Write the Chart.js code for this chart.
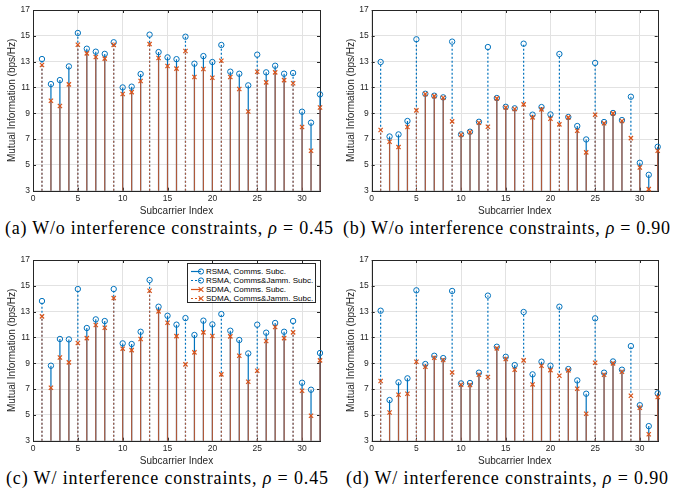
<!DOCTYPE html>
<html>
<head>
<meta charset="utf-8">
<script src="https://cdn.jsdelivr.net/npm/chart.js@4.4.0/dist/chart.umd.min.js"></script>
<style>
body{margin:0;background:#fff;width:673px;height:492px;position:relative;overflow:hidden;font-family:"Liberation Sans",Arial,sans-serif}
.panel{position:absolute}
.panel canvas{display:block}
.cap{position:absolute;font-family:"Liberation Serif","Times New Roman",serif;font-size:18px;white-space:nowrap;color:#000;line-height:18px}
.legend{position:absolute;left:187px;top:263px;width:127px;height:38px;border:1px solid #262626;background:#fff;font-size:8px;color:#000}
.legend div{position:absolute;left:2px;height:9px;line-height:9px;white-space:nowrap}
.legend svg{vertical-align:top;margin-right:2px}
</style>
</head>
<body>
<div class="panel" style="left:0;top:0"><canvas id="ca" width="336" height="218"></canvas></div>
<div class="panel" style="left:336px;top:0"><canvas id="cb" width="337" height="218"></canvas></div>
<div class="panel" style="left:0;top:250px"><canvas id="cc" width="336" height="218"></canvas></div>
<div class="panel" style="left:336px;top:250px"><canvas id="cd" width="337" height="218"></canvas></div>

<div class="cap" data-w="328" style="left:5px;top:219px">(a) W/o interference constraints, <i>ρ</i> = 0.45</div>
<div class="cap" data-w="327" style="left:343px;top:219px">(b) W/o interference constraints, <i>ρ</i> = 0.90</div>
<div class="cap" data-w="322" style="left:6px;top:469px">(c) W/ interference constraints, <i>ρ</i> = 0.45</div>
<div class="cap" data-w="322" style="left:346px;top:469px">(d) W/ interference constraints, <i>ρ</i> = 0.90</div>

<div class="legend">
  <div style="top:3px"><svg width="14" height="9"><line x1="1" y1="4.5" x2="11" y2="4.5" stroke="#0072BD" stroke-width="1.2"/><circle cx="11" cy="4.5" r="2.6" fill="none" stroke="#0072BD"/></svg>RSMA, Comms. Subc.</div>
  <div style="top:12px"><svg width="14" height="9"><line x1="1" y1="4.5" x2="11" y2="4.5" stroke="#0072BD" stroke-width="1.2" stroke-dasharray="2,2"/><circle cx="11" cy="4.5" r="2.6" fill="none" stroke="#0072BD"/></svg>RSMA, Comms&amp;Jamm. Subc.</div>
  <div style="top:21px"><svg width="14" height="9"><line x1="1" y1="4.5" x2="11" y2="4.5" stroke="#D95319" stroke-width="1.2"/><path d="M8.6 2.1L13.4 6.9M8.6 6.9L13.4 2.1" stroke="#D95319" stroke-width="1.1"/></svg>SDMA, Comms. Subc.</div>
  <div style="top:30px"><svg width="14" height="9"><line x1="1" y1="4.5" x2="11" y2="4.5" stroke="#D95319" stroke-width="1.2" stroke-dasharray="2,2"/><path d="M8.6 2.1L13.4 6.9M8.6 6.9L13.4 2.1" stroke="#D95319" stroke-width="1.1"/></svg>SDMA, Comms&amp;Jamm. Subc.</div>
</div>

<script>
const subcarriers = [1,2,3,4,5,6,7,8,9,10,11,12,13,14,15,16,17,18,19,20,21,22,23,24,25,26,27,28,29,30,31,32];
const jammSubc = [1,5,9,13,17,21,25,29];
const xTicks = [0,5,10,15,20,25,30];
const yTicks = [3,5,7,9,11,13,15,17];

// (a) w/o interference constraints, rho = 0.45
const rsmaA = [13.2,11.26,11.57,12.63,15.22,14.0,13.77,13.6,14.5,11.0,11.06,12.04,15.09,13.74,13.33,13.19,14.93,12.84,13.43,12.97,14.29,12.22,12.06,11.16,13.54,12.17,12.68,12.06,12.12,9.12,8.27,10.46];
const sdmaA = [12.74,9.97,9.56,11.24,14.31,13.64,13.36,13.23,14.3,10.49,10.64,11.5,14.36,13.28,12.66,12.46,13.82,11.81,12.43,11.75,13.07,11.81,10.88,9.14,12.22,11.39,12.17,11.57,11.32,7.93,6.1,9.45];
// (b) w/o interference constraints, rho = 0.90
const rsmaB = [12.97,7.2,7.36,8.4,14.73,10.51,10.36,10.23,14.55,7.36,7.57,8.34,14.13,10.18,9.5,9.38,14.39,8.89,9.48,8.91,13.59,8.71,8.01,6.97,12.9,8.32,9.02,8.47,10.28,5.16,4.23,6.4];
const sdmaB = [7.7,6.79,6.38,7.93,9.22,10.49,10.33,10.2,8.37,7.33,7.55,8.27,7.96,10.15,9.45,9.33,9.69,8.68,9.3,8.58,8.14,8.68,7.65,5.97,8.89,8.22,8.99,8.4,7.07,4.8,3.12,6.1];
// (c) w/ interference constraints, rho = 0.45
const rsmaC = [13.82,8.81,10.88,10.85,14.75,11.73,12.4,12.27,14.75,10.54,10.49,11.44,15.45,13.38,12.68,11.99,12.5,11.19,12.3,12.01,12.81,11.52,10.8,9.76,11.99,11.37,12.12,11.44,12.27,7.49,6.95,9.79];
const sdmaC = [12.63,7.1,9.45,9.07,10.57,10.95,11.96,11.75,14.05,10.13,10.02,10.88,14.62,13.02,12.14,11.1,8.91,9.84,11.39,11.11,8.14,11.08,9.58,7.57,8.42,10.72,11.81,10.95,11.39,6.87,4.93,9.22];
// (d) w/ interference constraints, rho = 0.90
const rsmaD = [13.07,6.15,7.52,7.83,14.65,8.94,9.58,9.4,14.6,7.44,7.47,8.27,14.24,10.28,9.5,8.86,12.97,8.14,9.12,8.81,13.38,8.55,7.67,6.64,12.48,8.27,9.14,8.5,10.33,5.75,4.13,6.67];
const sdmaD = [7.62,5.19,6.56,6.64,9.12,8.73,9.43,9.25,8.29,7.34,7.31,8.11,7.93,10.15,9.33,8.5,9.22,7.36,8.81,8.47,8.03,8.45,7.02,5.09,9.04,8.11,8.99,8.34,6.48,5.55,3.5,6.38];

const BLUE = '#0072BD';
const ORANGE = '#D95319';
const ORANGE_STEM = 'rgba(217,83,25,0.8)';
const TXT = '#262626';

function stems(vals, jamm) {
  const pts = [];
  subcarriers.forEach((s, i) => {
    if (jammSubc.includes(s) === jamm) {
      pts.push({x: s, y: yTicks[0]}, {x: s, y: vals[i]}, {x: s, y: null});
    }
  });
  return pts;
}
function marks(vals) {
  return subcarriers.map((s, i) => ({x: s, y: vals[i]}));
}

// box + inward ticks like matlab
const boxPlugin = {
  id: 'box',
  beforeDatasetsDraw(chart) {
    const {ctx, chartArea: a, scales} = chart;
    ctx.save();
    ctx.strokeStyle = TXT;
    ctx.lineWidth = 1;
    ctx.beginPath();
    scales.x.ticks.forEach(t => {
      const px = Math.round(scales.x.getPixelForValue(t.value)) + 0.5;
      ctx.moveTo(px, a.bottom); ctx.lineTo(px, a.bottom - 3);
      ctx.moveTo(px, a.top); ctx.lineTo(px, a.top + 3);
    });
    scales.y.ticks.forEach(t => {
      const py = Math.round(scales.y.getPixelForValue(t.value)) + 0.5;
      ctx.moveTo(a.left, py); ctx.lineTo(a.left + 3, py);
      ctx.moveTo(a.right, py); ctx.lineTo(a.right - 3, py);
    });
    ctx.stroke();
    ctx.strokeRect(Math.round(a.left) + 0.5, Math.round(a.top) + 0.5,
      Math.round(a.right - a.left), Math.round(a.bottom - a.top));
    ctx.restore();
  }
};

function makeChart(id, rsma, sdma, geo) {
  const stemBase = {type: 'line', pointRadius: 0, borderWidth: 1.2, tension: 0, spanGaps: false, fill: false, clip: false};
  new Chart(document.getElementById(id), {
    type: 'line',
    data: {
      datasets: [
        {...stemBase, data: stems(rsma, false), borderColor: BLUE, order: 5},
        {...stemBase, data: stems(rsma, true), borderColor: BLUE, borderDash: [2, 2], order: 4},
        {data: marks(rsma), showLine: false, clip: false, pointStyle: 'circle', pointRadius: 2.7, pointBorderWidth: 1,
          pointBorderColor: BLUE, pointBackgroundColor: 'rgba(0,0,0,0)', order: 3},
        {...stemBase, data: stems(sdma, false), borderColor: ORANGE_STEM, order: 2},
        {...stemBase, data: stems(sdma, true), borderColor: ORANGE_STEM, borderDash: [2, 2], order: 1},
        {data: marks(sdma), showLine: false, clip: false, pointStyle: 'crossRot', pointRadius: 3, pointBorderWidth: 1.2,
          pointBorderColor: ORANGE, order: 0}
      ]
    },
    options: {
      responsive: false,
      animation: false,
      devicePixelRatio: 1,
      layout: {padding: {left: geo.padL, right: geo.padR, top: 10, bottom: 1}},
      plugins: {legend: {display: false}, tooltip: {enabled: false}},
      scales: {
        x: {
          type: 'linear', min: 0, max: 32,
          afterBuildTicks: s => { s.ticks = xTicks.map(v => ({value: v})); },
          afterFit: s => { s.height = 26.3; },
          grid: {color: '#e2e2e2', drawTicks: false},
          border: {display: false},
          ticks: {color: TXT, padding: 3, font: {size: 8.5, family: 'Liberation Sans'}, maxRotation: 0},
          title: {display: true, text: 'Subcarrier Index', color: TXT, padding: 0, font: {size: 10, family: 'Liberation Sans'}}
        },
        y: {
          type: 'linear', min: 3, max: 17,
          afterBuildTicks: s => { s.ticks = yTicks.map(v => ({value: v})); },
          afterFit: s => { s.width = geo.yW; },
          grid: {color: '#e2e2e2', drawTicks: false},
          border: {display: false},
          ticks: {color: TXT, padding: 3, font: {size: 8.5, family: 'Liberation Sans'}},
          title: {display: true, text: 'Mutual Information (bps/Hz)', color: TXT, padding: 0, font: {size: 10, family: 'Liberation Sans'}}
        }
      }
    },
    plugins: [boxPlugin]
  });
}

const geoL = {padL: 6.5, yW: 26.5, padR: 16};
const geoR = {padL: 9.5, yW: 26.2, padR: 15.3};
makeChart('ca', rsmaA, sdmaA, geoL);
makeChart('cb', rsmaB, sdmaB, geoR);
makeChart('cc', rsmaC, sdmaC, geoL);
makeChart('cd', rsmaD, sdmaD, geoR);

// stretch captions to the width they have in the figure
function fitCaptions() {
  document.querySelectorAll('.cap').forEach(el => {
    el.style.letterSpacing = '0px';
    const w = el.getBoundingClientRect().width;
    const n = el.textContent.length;
    el.style.letterSpacing = ((+el.dataset.w - w) / (n - 1)) + 'px';
  });
}
fitCaptions();
if (document.fonts) document.fonts.ready.then(fitCaptions);
</script>
</body>
</html>
